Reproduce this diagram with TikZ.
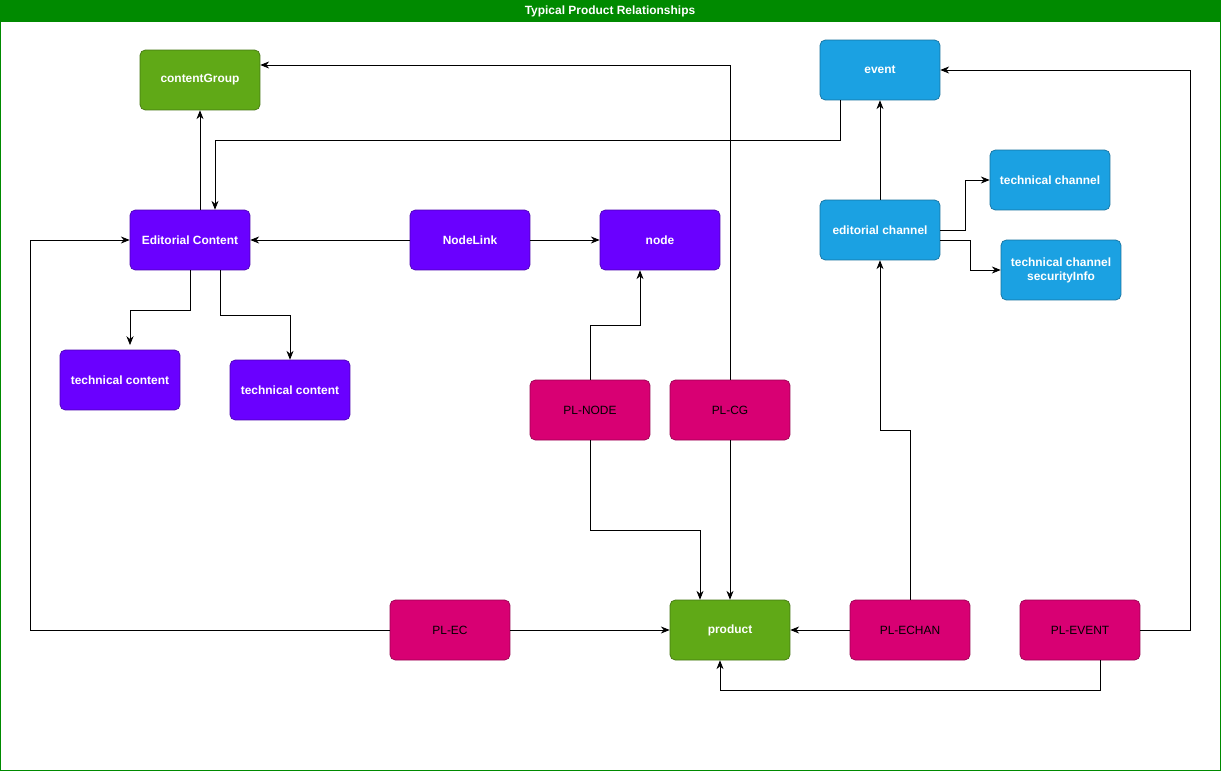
\documentclass[tikz,border=0pt]{standalone}
\usepackage{fontspec}
\setmainfont{Liberation Sans}
\usetikzlibrary{arrows.meta}
\usetikzlibrary{calc}
\definecolor{grn}{HTML}{60A917}
\definecolor{blu}{HTML}{1BA1E2}
\definecolor{pur}{HTML}{6A00FF}
\definecolor{mag}{HTML}{D80073}
\definecolor{frame}{HTML}{008A00}
\begin{document}
\begin{tikzpicture}[x=0.02cm, y=-0.02cm, >={Stealth[length=5pt,width=4pt]},
        box_style/.style={rounded corners=3pt, minimum width=2.4cm, minimum height=1.2cm, align=center, font=\fontsize{6.8}{8}\selectfont\bfseries, text=white},
        green_style/.style={box_style, draw=grn!70!black, fill=grn},
        blue_style/.style={box_style, draw=blu!70!black, fill=blu},
        purple_style/.style={box_style, draw=pur!70!black, fill=pur},
        pl_style/.style={box_style, draw=mag!70!black, fill=mag, text=black, font=\fontsize{6.8}{8}\selectfont},
        edge_style/.style={draw=black, thin, ->}]
        
        \useasboundingbox (0,0) rectangle (1221,771);
        \draw[frame, fill=white] (0.5,0.5) rectangle (1220.5,770.5);
        \fill[frame] (0,0) rectangle (1221,22);
        \node[text=white, font=\fontsize{6.8}{8}\selectfont\bfseries] (title) at (610,11) {Typical Product Relationships};
        
        \node [green_style](cg) at (200,80) {contentGroup};
        \node [blue_style](ev) at (880,70) {event};
        \node [purple_style](ec) at (190,240) {Editorial Content};
        \node [purple_style](nl) at (470,240) {NodeLink};
        \node [purple_style](nd) at (660,240) {node};
        \node [blue_style](ech) at (880,230) {editorial channel};
        \node [blue_style](tch) at (1050,180) {technical channel};
        \node [blue_style](tcs) at (1061,270) {technical channel\\securityInfo};
        \node [purple_style](tc1) at (120,380) {technical content};
        \node [purple_style](tc2) at (290,390) {technical content};
        \node [pl_style](plnode) at (590,410) {PL-NODE};
        \node [pl_style](plcg) at (730,410) {PL-CG};
        \node [pl_style](plec) at (450,630) {PL-EC};
        \node [green_style](pr) at (730,630) {product};
        \node [pl_style](plechan) at (910,630) {PL-ECHAN};
        \node [pl_style](plev) at (1080,630) {PL-EVENT};
        
        \draw [edge_style] (ec.north -| cg) -- (cg);
        \draw [edge_style] (plcg) |- (cg.east |- 0,65);
        \draw [edge_style] (ev.south -| 840,0) |- (215,140) -- (ec.north -| 215,0);
        \draw [edge_style] (nl) -- (ec);
        \draw [edge_style] (nl) -- (nd);
        \draw [edge_style] (ec.south -| 190,0) |- (130,310) -- (130,345);
        \draw [edge_style] (ec.south -| 220,0) |- (290,315) -- (tc2);
        \draw [edge_style] (ech) -- (ev);
        \draw [edge_style] (ech.east) -| (965,180) -- (tch);
        \draw [edge_style] (ech.east |- 0,240) -| (970,270) -- (tcs);
        \draw [edge_style] (plnode) |- (640,325) -- (nd.south -| 640,0);
        \draw [edge_style] (plnode) |- (700,530) -- (pr.north -| 700,0);
        \draw [edge_style] (plcg) -- (pr);
        \draw [edge_style] (plec) -| (30,240) -- (ec);
        \draw [edge_style] (plec) -- (pr);
        \draw [edge_style] (plechan) -- (pr);
        \draw [edge_style] (plechan) |- (880,430) -- (ech);
        \draw [edge_style] (plev) -| (1190,70) -- (ev);
        \draw [edge_style] (plev.south -| 1100,0) |- (720,690) -- (pr.south -| 720,0);
\end{tikzpicture}
\end{document}
